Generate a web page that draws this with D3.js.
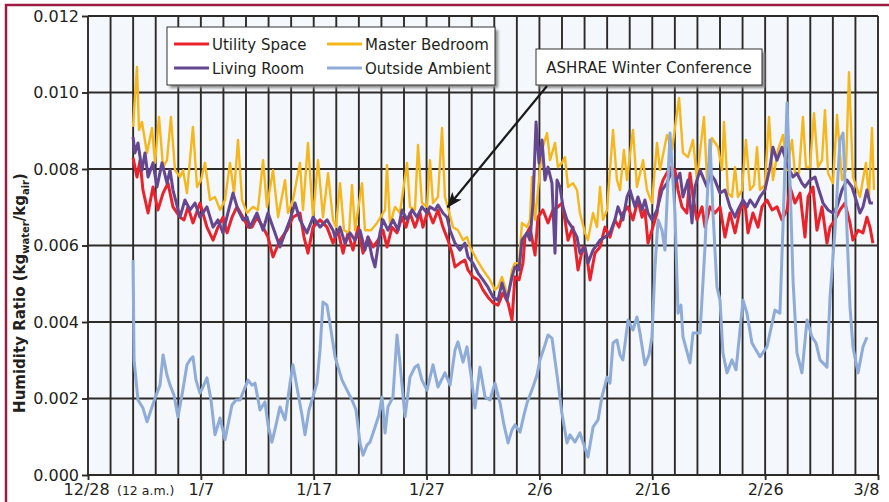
<!DOCTYPE html>
<html>
<head>
<meta charset="utf-8">
<script src="https://cdn.jsdelivr.net/npm/d3@7"></script>
<style>
  html, body { margin: 0; padding: 0; background: #fff; }
  svg { display: block; font-family: "DejaVu Sans", sans-serif; }
</style>
</head>
<body>
<svg id="chart" width="889" height="502"></svg>
<script>
// Humidity ratio (kg water / kg dry air). Each point is [days since 12/28 12 a.m., value].
const utilitySpace = [[3.99,0.00829],[4.34,0.00779],[4.61,0.00823],[4.87,0.00745],[5.32,0.00685],[5.76,0.00753],[6.20,0.00693],[6.65,0.00737],[7.09,0.00763],[7.53,0.00701],[8.15,0.00674],[8.51,0.00667],[8.86,0.00701],[9.30,0.00659],[9.92,0.00711],[10.54,0.00648],[11.08,0.00614],[11.52,0.00648],[11.96,0.00674],[12.32,0.00633],[12.76,0.00674],[13.20,0.00701],[13.73,0.00674],[14.18,0.00648],[14.53,0.00648],[14.97,0.00674],[15.51,0.00648],[15.95,0.00622],[16.39,0.0057],[17.01,0.00614],[17.63,0.0064],[18.16,0.00674],[18.78,0.00685],[19.14,0.00622],[19.49,0.0058],[19.94,0.00648],[20.56,0.00667],[21.18,0.00648],[21.71,0.00606],[22.15,0.0064],[22.60,0.0058],[23.04,0.00633],[23.48,0.00588],[23.92,0.00648],[24.37,0.0058],[24.81,0.00622],[25.26,0.00596],[25.70,0.00614],[26.14,0.0064],[26.49,0.00596],[26.94,0.00648],[27.38,0.00633],[27.82,0.00674],[28.18,0.00648],[28.53,0.00685],[28.97,0.00648],[29.42,0.00685],[29.68,0.00648],[30.13,0.00693],[30.57,0.00659],[31.01,0.00693],[31.45,0.00648],[31.90,0.00614],[32.25,0.0058],[32.52,0.00544],[32.96,0.00554],[33.40,0.00562],[33.67,0.00536],[34.11,0.00518],[34.56,0.0051],[35.00,0.00484],[35.44,0.00465],[35.89,0.0045],[36.33,0.00444],[36.77,0.00476],[37.22,0.0045],[37.57,0.00405],[37.83,0.00518],[38.19,0.0051],[38.54,0.00554],[38.72,0.00622],[39.16,0.00648],[39.61,0.00575],[39.87,0.00674],[40.31,0.00693],[40.76,0.00659],[41.20,0.00693],[41.64,0.00701],[41.99,0.00711],[42.26,0.00667],[42.53,0.00614],[42.97,0.00648],[43.42,0.00536],[43.86,0.00596],[44.21,0.0057],[44.48,0.0051],[44.92,0.0058],[45.37,0.00596],[45.81,0.00648],[46.25,0.00622],[46.69,0.00667],[47.05,0.00648],[47.40,0.00685],[47.85,0.00701],[48.29,0.00667],[48.73,0.00719],[49.09,0.00674],[49.35,0.00693],[49.62,0.00606],[49.97,0.0064],[50.42,0.00685],[50.68,0.00745],[50.95,0.00771],[51.57,0.00805],[52.01,0.00797],[52.28,0.00745],[52.63,0.00701],[53.07,0.00685],[53.34,0.00789],[53.61,0.00727],[53.96,0.00667],[54.41,0.00701],[54.67,0.00648],[55.11,0.00701],[55.55,0.00685],[56.00,0.00701],[56.44,0.00622],[56.88,0.00685],[57.33,0.00633],[57.77,0.00693],[58.21,0.00711],[58.48,0.00633],[58.92,0.00685],[59.37,0.00648],[59.72,0.00701],[60.16,0.00719],[60.61,0.00693],[61.05,0.00701],[61.49,0.00667],[61.94,0.00693],[62.20,0.00753],[62.64,0.00711],[63.09,0.00737],[63.53,0.00622],[63.80,0.00727],[64.24,0.00753],[64.59,0.0064],[65.04,0.00701],[65.48,0.00606],[65.75,0.00648],[66.19,0.00667],[66.63,0.00693],[67.07,0.00711],[67.52,0.00659],[67.78,0.00614],[68.23,0.0064],[68.67,0.00633],[69.02,0.00674],[69.29,0.00648],[69.55,0.00606]];

const masterBedroom = [[3.99,0.0091],[4.34,0.01067],[4.52,0.00902],[4.78,0.00923],[5.23,0.00842],[5.67,0.00907],[5.94,0.00816],[6.29,0.00936],[6.65,0.00805],[7.00,0.00823],[7.35,0.00936],[7.71,0.00797],[8.15,0.00779],[8.42,0.00797],[8.77,0.00737],[9.30,0.0091],[9.66,0.00753],[10.01,0.00771],[10.37,0.00816],[10.81,0.00719],[11.25,0.00727],[11.70,0.00693],[12.14,0.00719],[12.58,0.00816],[12.94,0.00737],[13.29,0.00876],[13.65,0.00719],[14.09,0.00685],[14.62,0.00701],[15.06,0.00693],[15.51,0.00823],[15.86,0.00701],[16.39,0.00797],[16.84,0.00674],[17.46,0.00771],[17.72,0.00685],[18.16,0.00719],[18.78,0.00816],[19.05,0.00693],[19.49,0.00868],[19.94,0.00674],[20.38,0.00823],[20.82,0.00674],[21.27,0.00789],[21.71,0.00667],[21.97,0.00648],[22.33,0.00763],[22.68,0.0064],[23.13,0.00633],[23.39,0.00758],[23.66,0.0064],[24.28,0.00763],[24.54,0.0064],[25.08,0.0064],[25.61,0.00659],[26.32,0.00693],[26.49,0.0081],[26.76,0.00654],[27.20,0.00701],[27.64,0.00685],[28.27,0.00816],[28.53,0.00701],[28.97,0.00693],[29.24,0.00863],[29.59,0.00711],[30.04,0.00701],[30.30,0.00823],[30.57,0.00711],[31.01,0.00727],[31.37,0.00907],[31.63,0.00727],[31.90,0.00698],[32.34,0.00648],[32.78,0.0064],[33.23,0.00614],[33.58,0.00622],[33.85,0.00596],[34.47,0.00562],[35.00,0.00536],[35.62,0.0051],[36.06,0.00484],[36.33,0.00491],[36.68,0.00518],[36.95,0.00491],[37.22,0.00465],[37.57,0.00536],[37.83,0.00554],[38.19,0.00554],[38.45,0.00659],[38.90,0.00648],[39.16,0.00667],[39.34,0.00779],[39.61,0.00667],[40.23,0.0085],[40.67,0.00894],[40.94,0.00823],[41.38,0.00868],[41.64,0.00805],[41.99,0.00816],[42.26,0.00831],[42.53,0.00753],[42.97,0.00763],[43.33,0.00745],[43.59,0.00685],[44.04,0.00633],[44.30,0.00614],[44.75,0.00685],[45.10,0.00648],[45.37,0.00753],[45.63,0.00667],[45.99,0.00693],[46.52,0.00902],[46.87,0.00771],[47.14,0.00745],[47.49,0.0085],[47.76,0.00771],[48.29,0.00902],[48.64,0.00753],[49.18,0.00823],[49.53,0.00745],[49.97,0.00711],[50.42,0.00868],[50.68,0.00797],[51.30,0.00889],[51.75,0.0085],[52.37,0.00986],[52.72,0.00842],[53.16,0.00831],[53.61,0.00876],[53.96,0.00771],[54.58,0.00936],[54.85,0.00771],[55.29,0.00881],[55.82,0.00857],[56.18,0.00797],[56.35,0.00923],[56.71,0.00737],[57.06,0.00727],[57.33,0.00805],[57.59,0.00727],[57.95,0.00745],[58.30,0.00876],[58.66,0.00745],[59.01,0.00758],[59.28,0.00857],[59.54,0.00745],[59.98,0.00758],[60.34,0.00936],[60.69,0.00771],[61.14,0.0085],[61.58,0.00889],[61.94,0.00797],[62.38,0.00876],[62.64,0.00789],[63.00,0.00789],[63.35,0.00936],[63.62,0.00805],[63.97,0.00805],[64.33,0.00946],[64.68,0.00805],[65.04,0.00823],[65.30,0.00954],[65.57,0.00789],[66.01,0.00763],[66.37,0.00941],[66.81,0.00771],[67.16,0.00797],[67.43,0.01053],[67.78,0.00779],[68.40,0.00727],[68.93,0.00816],[69.20,0.00727],[69.47,0.00907],[69.64,0.00745]];

const livingRoom = [[3.99,0.00884],[4.16,0.00842],[4.43,0.00868],[4.78,0.00797],[5.05,0.00842],[5.32,0.00779],[5.76,0.00816],[6.11,0.00753],[6.56,0.00816],[7.00,0.00763],[7.27,0.00797],[7.53,0.00745],[8.15,0.00674],[8.59,0.00719],[9.04,0.00693],[9.48,0.00711],[9.92,0.00674],[10.54,0.00701],[11.08,0.00648],[11.52,0.00667],[11.96,0.00633],[12.40,0.00685],[12.85,0.00737],[13.29,0.00693],[13.73,0.00667],[14.09,0.00674],[14.35,0.00648],[14.97,0.00685],[15.51,0.0064],[15.95,0.00685],[16.39,0.00648],[17.01,0.00596],[17.46,0.00633],[17.90,0.00667],[18.34,0.00711],[18.78,0.00667],[19.40,0.00633],[19.94,0.00674],[20.56,0.00648],[21.18,0.00667],[21.71,0.0064],[21.89,0.00622],[22.33,0.00648],[22.77,0.00606],[23.21,0.00633],[23.66,0.00614],[24.10,0.0064],[24.54,0.00588],[24.81,0.00622],[25.17,0.0057],[25.43,0.00544],[25.87,0.00633],[26.14,0.00667],[26.58,0.0064],[27.02,0.00667],[27.47,0.0064],[27.82,0.00693],[28.27,0.00667],[28.71,0.00693],[29.15,0.00674],[29.59,0.00701],[30.04,0.00685],[30.30,0.00701],[30.75,0.00693],[31.01,0.00706],[31.45,0.00685],[31.81,0.00674],[32.08,0.0064],[32.52,0.00606],[32.96,0.00588],[33.40,0.00606],[33.67,0.0057],[34.11,0.00554],[34.56,0.00528],[35.00,0.0051],[35.44,0.00491],[35.89,0.00465],[36.33,0.00457],[36.68,0.00502],[37.13,0.00457],[37.57,0.00518],[37.83,0.00544],[38.19,0.00536],[38.45,0.00614],[38.90,0.00633],[39.16,0.00614],[39.43,0.00711],[39.70,0.00923],[39.96,0.00816],[40.23,0.00876],[40.49,0.00771],[40.76,0.00805],[41.11,0.00763],[41.38,0.0058],[41.56,0.00771],[41.82,0.00753],[42.09,0.00701],[42.44,0.00667],[42.88,0.00648],[43.33,0.00622],[43.59,0.0058],[44.04,0.00596],[44.30,0.00554],[44.75,0.00588],[45.37,0.00614],[45.81,0.00622],[46.25,0.00633],[46.69,0.00667],[46.96,0.00701],[47.40,0.00667],[47.76,0.00727],[48.02,0.00745],[48.47,0.00701],[48.73,0.00727],[49.09,0.00693],[49.35,0.00719],[49.62,0.00685],[49.97,0.00667],[50.42,0.00693],[50.86,0.00745],[51.30,0.00763],[51.75,0.00797],[52.01,0.00763],[52.45,0.00789],[52.72,0.00727],[53.16,0.00771],[53.52,0.00659],[53.78,0.00753],[54.23,0.00797],[54.85,0.00753],[55.11,0.00789],[55.55,0.00771],[56.00,0.00737],[56.44,0.00745],[56.88,0.00701],[57.33,0.00674],[57.59,0.00693],[58.04,0.00719],[58.39,0.00701],[58.66,0.00719],[59.10,0.00701],[59.54,0.00727],[59.98,0.00745],[60.43,0.00805],[60.69,0.00857],[61.05,0.00823],[61.49,0.00857],[61.76,0.00831],[62.02,0.00805],[62.47,0.00779],[62.82,0.00789],[63.26,0.00763],[63.53,0.00753],[63.97,0.00771],[64.42,0.00779],[64.68,0.00753],[65.13,0.00711],[65.57,0.00693],[66.01,0.00685],[66.37,0.00701],[66.81,0.00745],[67.25,0.00771],[67.69,0.00753],[68.14,0.00711],[68.40,0.00685],[68.67,0.00701],[69.02,0.00745],[69.29,0.00711],[69.55,0.00711]];

const outsideAmbient = [[3.99,0.00562],[4.08,0.00301],[4.43,0.00196],[4.87,0.00175],[5.23,0.00139],[5.58,0.0017],[5.94,0.00201],[6.38,0.00235],[6.65,0.00314],[7.00,0.00261],[7.27,0.00235],[7.62,0.00209],[7.97,0.00152],[8.33,0.00209],[8.77,0.00288],[9.04,0.00301],[9.30,0.00309],[9.57,0.00248],[9.92,0.00214],[10.19,0.0023],[10.54,0.00254],[10.90,0.00196],[11.25,0.00105],[11.70,0.00149],[12.14,0.00092],[12.49,0.00144],[12.76,0.00183],[13.11,0.00196],[13.47,0.00196],[13.82,0.00222],[14.18,0.00248],[14.53,0.00235],[14.80,0.0024],[15.24,0.0017],[15.68,0.00191],[15.95,0.00131],[16.30,0.00086],[16.66,0.00131],[17.01,0.00178],[17.46,0.00144],[17.90,0.0024],[18.16,0.00288],[18.61,0.00214],[18.96,0.00157],[19.23,0.00105],[19.58,0.0017],[19.85,0.00196],[20.29,0.0024],[20.56,0.00327],[20.82,0.00452],[21.18,0.00444],[21.53,0.00379],[21.89,0.00309],[22.51,0.00248],[22.95,0.00222],[23.39,0.00196],[23.75,0.0017],[24.10,0.00084],[24.37,0.00052],[24.72,0.00078],[24.99,0.00086],[25.43,0.00125],[25.78,0.00157],[26.05,0.00204],[26.32,0.0011],[26.58,0.00178],[27.02,0.00204],[27.38,0.00366],[27.64,0.00293],[28.09,0.00152],[28.53,0.00256],[28.97,0.00282],[29.24,0.00288],[29.59,0.00248],[30.04,0.00222],[30.57,0.00288],[31.01,0.0023],[31.63,0.00267],[32.08,0.00235],[32.52,0.00327],[32.78,0.00348],[33.23,0.00295],[33.58,0.00335],[34.02,0.00243],[34.29,0.00175],[34.73,0.00282],[35.18,0.00204],[35.62,0.00196],[36.06,0.0024],[36.51,0.00188],[36.86,0.00131],[37.22,0.00084],[37.57,0.00118],[37.83,0.00131],[38.28,0.00112],[38.63,0.00157],[38.90,0.00188],[39.43,0.0023],[39.78,0.00261],[40.05,0.00301],[40.49,0.0034],[40.76,0.00366],[41.11,0.00358],[41.56,0.00261],[41.99,0.00162],[42.44,0.00084],[42.71,0.00105],[43.15,0.00086],[43.59,0.0011],[43.86,0.00086],[44.30,0.00047],[44.75,0.00125],[45.19,0.00144],[45.54,0.00204],[45.99,0.00256],[46.25,0.0024],[46.52,0.00345],[46.87,0.00353],[47.14,0.00314],[47.40,0.00301],[47.85,0.00405],[48.29,0.00379],[48.64,0.00413],[48.91,0.00371],[49.35,0.00288],[49.71,0.00314],[49.97,0.00361],[50.24,0.00544],[50.51,0.00667],[50.86,0.0064],[51.12,0.00588],[51.57,0.00894],[52.01,0.00685],[52.28,0.00423],[52.54,0.00444],[52.72,0.00361],[53.34,0.00293],[53.61,0.00371],[54.23,0.00371],[54.67,0.00596],[55.11,0.00876],[55.38,0.00685],[55.73,0.00491],[56.00,0.00457],[56.26,0.00319],[56.62,0.00267],[57.06,0.00301],[57.42,0.00275],[58.04,0.00457],[58.39,0.00423],[58.83,0.00345],[59.54,0.00309],[60.16,0.00335],[60.87,0.00431],[61.31,0.00423],[61.58,0.00648],[61.94,0.00973],[62.20,0.00771],[62.47,0.0051],[62.82,0.00319],[63.26,0.00267],[63.71,0.00405],[64.15,0.00361],[64.51,0.00345],[64.86,0.00301],[65.48,0.00282],[65.75,0.00465],[66.19,0.0064],[66.63,0.00876],[66.90,0.00894],[67.25,0.0064],[67.52,0.00439],[67.78,0.00335],[68.23,0.00267],[68.67,0.00335],[69.02,0.0036]];

const seriesNames = ["Utility Space", "Master Bedroom", "Living Room", "Outside Ambient"];
const seriesColors = ["#e8232b", "#f6b71c", "#65478f", "#8fabd7"];
const seriesWidths = [3, 2.4, 3, 3];
const seriesData = [utilitySpace, masterBedroom, livingRoom, outsideAmbient];

const yTickValues = [0, 0.002, 0.004, 0.006, 0.008, 0.010, 0.012];
const xTickDays = [0, 10, 20, 30, 40, 50, 60, 70];
const xTickLabels = ["12/28", "1/7", "1/17", "1/27", "2/6", "2/16", "2/26", "3/8"];
const gridDays = d3.range(0, 71, 2);

const t0 = Date.UTC(2008, 11, 28);
const dayToDate = d => new Date(t0 + d * 864e5);

const W = 889, H = 502;
const plot = { left: 88, right: 878, top: 16, bottom: 475 };
const ink = "#231f20";
const gridInk = "#2e2a28";

const svg = d3.select("#chart");

const x = d3.scaleUtc().domain([dayToDate(0), dayToDate(70)]).range([plot.left, plot.right]);
const y = d3.scaleLinear().domain([0, 0.012]).range([plot.bottom, plot.top]);

// page frame
svg.append("rect").attr("width", W).attr("height", H).attr("fill", "#fff");
svg.append("path")
  .attr("d", `M6,${H} V5 H${W}`)
  .attr("fill", "none").attr("stroke", "#9e1c41").attr("stroke-width", 2.5);

// soft drop shadow for the boxes
const defs = svg.append("defs");
const f = defs.append("filter").attr("id", "shadow").attr("x", "-10%").attr("y", "-20%").attr("width", "130%").attr("height", "160%");
f.append("feGaussianBlur").attr("stdDeviation", 1.6);

defs.append("marker")
  .attr("id", "head").attr("viewBox", "0 0 16 12").attr("refX", 15).attr("refY", 6)
  .attr("markerWidth", 16).attr("markerHeight", 12).attr("markerUnits", "userSpaceOnUse")
  .attr("orient", "auto")
  .append("path").attr("d", "M0,0 L16,6 L0,12 L4,6 Z").attr("fill", "#1a1a1a");

// plot background
svg.append("rect")
  .attr("x", plot.left).attr("y", plot.top)
  .attr("width", plot.right - plot.left).attr("height", plot.bottom - plot.top)
  .attr("fill", "#f4f7fc");

// grid
const grid = svg.append("g").attr("stroke", gridInk).attr("stroke-width", 1.9);
grid.selectAll(".v").data(gridDays).join("line")
  .attr("x1", d => x(dayToDate(d))).attr("x2", d => x(dayToDate(d)))
  .attr("y1", plot.top).attr("y2", plot.bottom);
grid.selectAll(".h").data(yTickValues).join("line")
  .attr("x1", plot.left).attr("x2", plot.right)
  .attr("y1", d => y(d)).attr("y2", d => y(d));

// axes
const yAxis = svg.append("g")
  .attr("transform", `translate(${plot.left},0)`)
  .call(d3.axisLeft(y).tickValues(yTickValues).tickFormat(d3.format(".3f")).tickSize(6).tickPadding(3));
yAxis.select(".domain").remove();
yAxis.selectAll("line").attr("stroke", gridInk).attr("stroke-width", 1.9);
yAxis.selectAll("text").attr("fill", ink).attr("font-size", 16).attr("font-family", "DejaVu Sans");

const xAxis = svg.append("g")
  .attr("transform", `translate(0,${plot.bottom})`)
  .call(d3.axisBottom(x).tickValues(xTickDays.map(dayToDate))
    .tickFormat((d, i) => xTickLabels[i]).tickSize(5).tickPadding(4));
xAxis.select(".domain").remove();
xAxis.selectAll("line").attr("stroke", gridInk).attr("stroke-width", 1.9);
xAxis.selectAll("text").attr("fill", ink).attr("font-size", 16).attr("font-family", "DejaVu Sans");
xAxis.selectAll(".tick:first-of-type text").attr("dx", "-0.12em");
xAxis.selectAll(".tick:last-of-type text").attr("text-anchor", "end").attr("dx", "0.05em");
svg.append("text")
  .attr("x", x(dayToDate(0)) + 29).attr("y", 495)
  .attr("font-size", 12.5).attr("fill", ink).text("(12 a.m.)");

// y title
const yTitle = svg.append("text")
  .attr("transform", "translate(25,293) rotate(-90)")
  .attr("text-anchor", "middle")
  .attr("font-weight", "bold").attr("font-size", 15).attr("fill", ink);
yTitle.append("tspan").text("Humidity Ratio (kg");
yTitle.append("tspan").attr("font-size", 10).attr("dy", 4).text("water");
yTitle.append("tspan").attr("dy", -4).text("/kg");
yTitle.append("tspan").attr("font-size", 10).attr("dy", 4).text("air");
yTitle.append("tspan").attr("dy", -4).text(")");

// series
const line = d3.line()
  .x(d => x(dayToDate(d[0])))
  .y(d => y(d[1]));
svg.append("g").selectAll("path").data(seriesData).join("path")
  .attr("d", line)
  .attr("fill", "none")
  .attr("stroke", (d, i) => seriesColors[i])
  .attr("stroke-width", (d, i) => seriesWidths[i])
  .attr("stroke-linejoin", "round");

// legend
const lg = { x: 167, y: 27, w: 328, h: 58 };
svg.append("rect").attr("x", lg.x + 3).attr("y", lg.y + 3).attr("width", lg.w).attr("height", lg.h)
  .attr("fill", "#8a8a8a").attr("filter", "url(#shadow)");
svg.append("rect").attr("x", lg.x).attr("y", lg.y).attr("width", lg.w).attr("height", lg.h)
  .attr("fill", "#fff").attr("stroke", "#333").attr("stroke-width", 1);
const legendItems = svg.append("g").selectAll("g").data(seriesNames).join("g")
  .attr("transform", (d, i) => `translate(${lg.x + 7 + (i % 2) * 153},${lg.y + 17 + Math.floor(i / 2) * 24})`);
legendItems.append("line").attr("x1", 0).attr("x2", 35).attr("y1", 0).attr("y2", 0)
  .attr("stroke", (d, i) => seriesColors[i]).attr("stroke-width", 3);
legendItems.append("text").attr("x", 38).attr("y", 5.5)
  .attr("font-size", 15).attr("fill", ink).text(d => d);

// annotation
const note = { x: 536, y: 49, w: 226, h: 36 };
svg.append("rect").attr("x", note.x + 3).attr("y", note.y + 3).attr("width", note.w).attr("height", note.h)
  .attr("fill", "#8a8a8a").attr("filter", "url(#shadow)");
svg.append("rect").attr("x", note.x).attr("y", note.y).attr("width", note.w).attr("height", note.h)
  .attr("fill", "#fff").attr("stroke", "#333").attr("stroke-width", 1);
svg.append("text").attr("x", note.x + note.w / 2).attr("y", note.y + 24)
  .attr("text-anchor", "middle").attr("font-size", 15).attr("fill", ink)
  .text("ASHRAE Winter Conference");
svg.append("line")
  .attr("x1", note.x + 11).attr("y1", note.y + note.h + 1)
  .attr("x2", x(dayToDate(31.85))).attr("y2", y(0.00700))
  .attr("stroke", "#1a1a1a").attr("stroke-width", 2.2)
  .attr("marker-end", "url(#head)");
</script>
</body>
</html>
